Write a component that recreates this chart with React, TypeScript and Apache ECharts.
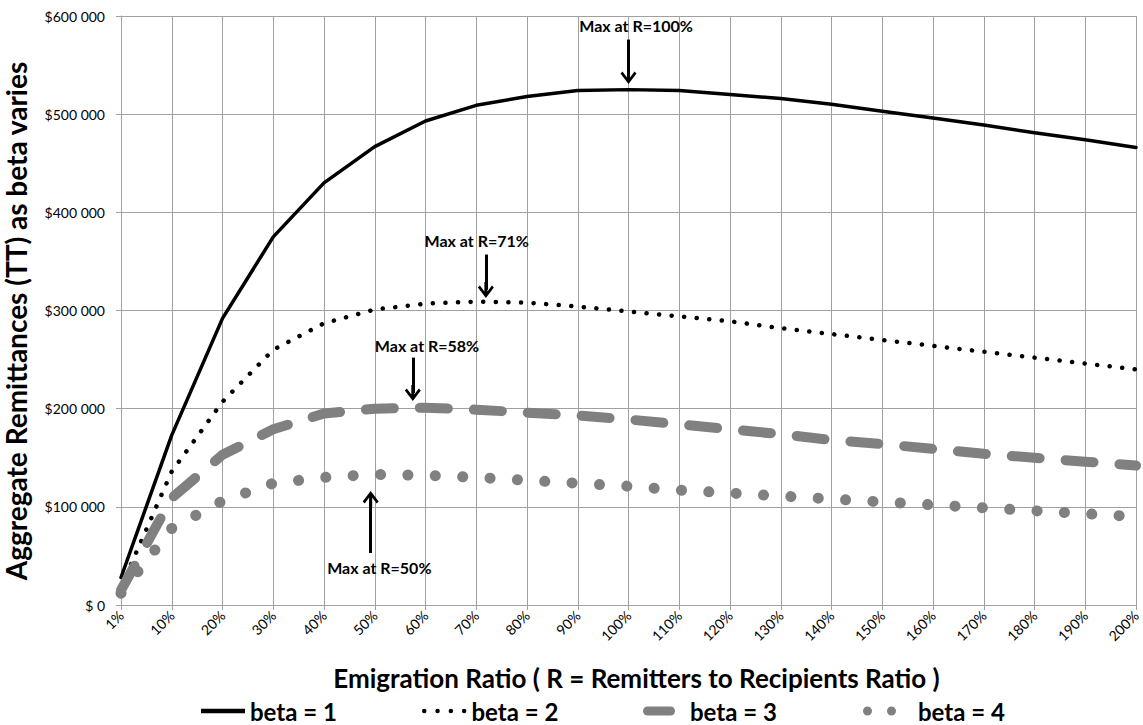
import React, { useEffect, useRef } from 'react';
import * as echarts from 'echarts';

const FONT = 'Lato, "Open Sans", sans-serif';

const categories = ['1%', '10%', '20%', '30%', '40%', '50%', '60%', '70%', '80%', '90%', '100%',
  '110%', '120%', '130%', '140%', '150%', '160%', '170%', '180%', '190%', '200%'];

const seriesNames = ['beta = 1', 'beta = 2', 'beta = 3', 'beta = 4'];

const beta1 = [28000, 173000, 292000, 375000, 430000, 467000, 493000, 509000, 518000, 524000, 525000,
  524000, 520000, 516000, 510000, 503000, 496000, 489000, 481000, 474000, 466000];
const beta2 = [18000, 136000, 207000, 260000, 287000, 301000, 307000, 309000, 308000, 304000, 299000,
  294000, 289000, 282000, 276000, 270000, 264000, 258000, 252000, 246000, 240000];
const beta3 = [15000, 109000, 153000, 179000, 195000, 200000, 201000, 199000, 196000, 193000, 189000,
  184000, 179000, 174000, 168000, 164000, 159000, 154000, 150000, 146000, 142000];
const beta4 = [12000, 78000, 106000, 124000, 130000, 133000, 132000, 130000, 127000, 124000, 121000,
  117000, 114000, 111000, 108000, 105000, 102000, 99000, 96000, 93000, 90000];

const yTitle = 'Aggregate Remittances (TT) as beta varies';
const xTitle = 'Emigration Ratio ( R = Remitters to Recipients Ratio )';

// annotations (x given as category position index, y as value)
const annotLabels = ['Max at R=100%', 'Max at R=71%', 'Max at R=58%', 'Max at R=50%'];
const arrowX = [10, 7.19, 5.75, 4.92];
const arrowFrom = [576000, 357000, 252000, 53000];
const arrowTo = [539000, 321000, 216000, 108000];
const labelX = [10.15, 7.01, 6.03, 5.09];
const labelY = [590000, 371000, 264000, 38000];

const ARROW = 'path://M8,0L16,10.5L14,12.5L9.5,6.5L9.5,16L6.5,16L6.5,6.5L2,12.5L0,10.5Z';

const GRID = '#a0a0a0';
const GREY = '#808080';

function dots(n: number, r: number, step: number) {
  let d = '';
  for (let i = 0; i < n; i++) {
    const cx = r + i * step;
    d += `M${cx - r},${r}A${r},${r} 0 1 0 ${cx + r},${r}A${r},${r} 0 1 0 ${cx - r},${r}Z`;
  }
  return 'path://' + d;
}

export default function App() {
  const ref = useRef<HTMLDivElement>(null);

  useEffect(() => {
    document.body.style.margin = '0';
    const chart = echarts.init(ref.current!, undefined, { renderer: 'svg' });

    const legendText = (pad: number) => ({
      color: '#000', fontSize: 24, fontWeight: 'bold', fontFamily: FONT, padding: [0, 0, 0, pad],
    });
    const legendBase = {
      top: 699, padding: 0, selectedMode: false,
      itemStyle: { borderWidth: 0 },
    };

    const option: any = {
      animation: false,
      backgroundColor: '#fff',
      textStyle: { fontFamily: FONT },
      grid: { left: 121, right: 7, top: 16, bottom: 120, outerBoundsMode: 'none', containLabel: false },
      graphic: [
        {
          type: 'text',
          x: 16,
          y: 321,
          rotation: Math.PI / 2,
          silent: true,
          style: {
            text: yTitle, fontSize: 28, fontWeight: 'bold', fontFamily: FONT, fill: '#000',
            align: 'center', verticalAlign: 'middle',
          },
        },
      ],
      xAxis: [
        {
          type: 'category',
          data: categories,
          boundaryGap: false,
          axisLine: { lineStyle: { color: GRID, width: 1 } },
          axisTick: { show: true, length: 5, interval: 0, lineStyle: { color: GRID } },
          splitLine: { show: true, interval: 0, lineStyle: { color: GRID, width: 1 } },
          axisLabel: { interval: 0, rotate: 45, fontSize: 14, color: '#000', margin: 8, fontFamily: FONT },
          name: xTitle,
          nameLocation: 'middle',
          nameGap: 60,
          nameTextStyle: { fontSize: 26, fontWeight: 'bold', color: '#000', fontFamily: FONT, padding: [0, 0, 0, 16] },
        },
        { type: 'value', min: 0, max: 20, show: false },
      ],
      yAxis: {
        type: 'value',
        min: 0,
        max: 600000,
        interval: 100000,
        axisLine: { show: true, lineStyle: { color: GRID, width: 1 } },
        axisTick: { show: true, length: 5, lineStyle: { color: GRID } },
        splitLine: { show: true, lineStyle: { color: GRID, width: 1 } },
        axisLabel: {
          fontSize: 14, color: '#000', margin: 16, fontFamily: FONT,
          formatter: (v: number) => (v === 0 ? '$ 0' : '$' + Math.round(v / 1000) + ' 000'),
        },
      },
      legend: [
        {
          ...legendBase, left: 201, itemWidth: 44, itemHeight: 4.5,
          data: [{ name: seriesNames[0], icon: 'path://M0,0H44V4.5H0Z' }], textStyle: legendText(0),
        },
        {
          ...legendBase, left: 422, itemWidth: 44.5, itemHeight: 4.5,
          data: [{ name: seriesNames[1], icon: dots(4, 2.25, 13.3) }], textStyle: legendText(0),
        },
        {
          ...legendBase, left: 643, itemWidth: 32, itemHeight: 9,
          data: [{ name: seriesNames[2], icon: 'path://M4.5,0H27.5A4.5,4.5 0 0 1 27.5,9H4.5A4.5,4.5 0 0 1 4.5,0Z' }],
          textStyle: legendText(10),
        },
        {
          ...legendBase, left: 863, itemWidth: 33, itemHeight: 9,
          data: [{ name: seriesNames[3], icon: dots(2, 4.5, 24) }], textStyle: legendText(17),
        },
      ],
      series: [
        {
          name: seriesNames[0], type: 'line', data: beta1, showSymbol: false, symbol: 'none', silent: true,
          color: '#000', lineStyle: { color: '#000', width: 3.5, cap: 'round', join: 'round' },
        },
        {
          name: seriesNames[1], type: 'line', data: beta2, showSymbol: false, symbol: 'none', silent: true,
          color: '#000', lineStyle: { color: '#000', width: 4.5, type: [0.1, 12.5], cap: 'round' },
        },
        {
          name: seriesNames[2], type: 'line', data: beta3, showSymbol: false, symbol: 'none', silent: true,
          color: GREY, lineStyle: { color: GREY, width: 10, type: [28, 26], cap: 'round' },
        },
        {
          name: seriesNames[3], type: 'line', data: beta4, showSymbol: false, symbol: 'none', silent: true,
          color: GREY, lineStyle: { color: GREY, width: 11, type: [0.1, 27.3], cap: 'round' },
        },
        {
          name: 'annotations', type: 'line', xAxisIndex: 1, yAxisIndex: 0, data: [], silent: true,
          markLine: {
            silent: true,
            symbol: ['none', ARROW],
            symbolSize: 16,
            lineStyle: { color: '#000', width: 3, type: 'solid' },
            label: { show: false },
            emphasis: { disabled: true },
            data: arrowX.map((x, i) => [{ coord: [x, arrowFrom[i]] }, { coord: [x, arrowTo[i]] }]),
          },
          markPoint: {
            silent: true,
            symbol: 'rect',
            symbolSize: 1,
            itemStyle: { color: 'rgba(0,0,0,0)' },
            label: {
              show: true, position: 'inside', color: '#000', fontWeight: 'bold', fontSize: 16, fontFamily: FONT,
            },
            data: labelX.map((x, i) => ({
              coord: [x, labelY[i]],
              label: { formatter: annotLabels[i] },
            })),
          },
        },
      ],
    };

    chart.setOption(option);
    return () => chart.dispose();
  }, []);

  return <div ref={ref} style={{ width: 1143, height: 725 }} />;
}
